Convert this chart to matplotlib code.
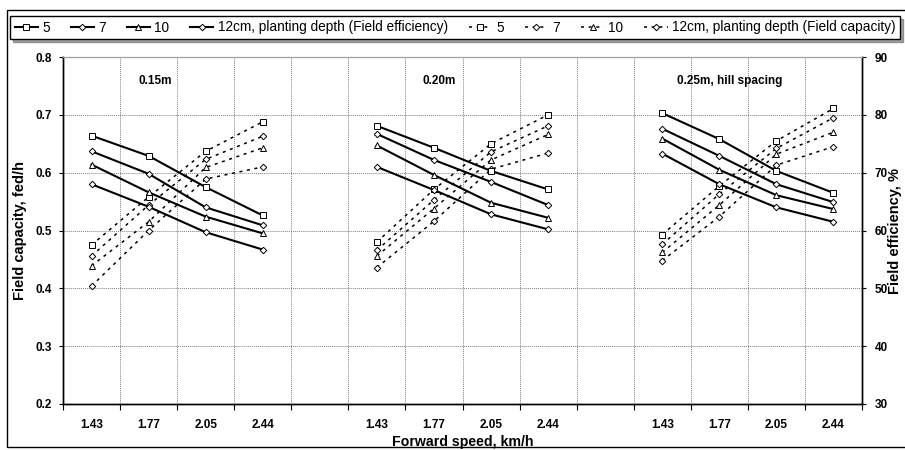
import matplotlib
matplotlib.use('Agg')
import matplotlib.pyplot as plt
from matplotlib.patches import Rectangle

plt.rcParams['font.family'] = ['Liberation Sans', 'DejaVu Sans']

speeds = ['1.43', '1.77', '2.05', '2.44']
spacings = ['0.15m', '0.20m', '0.25m, hill spacing']
depths = ['5', '7', '10', '12cm, planting depth']

# field efficiency, % (3 spacings x 4 speeds)
eff_5 = [76.4, 72.9, 67.5, 62.6, 78.1, 74.3, 70.3, 67.1, 80.3, 75.8, 70.3, 66.5]
eff_7 = [73.7, 69.8, 64.0, 60.9, 76.7, 72.2, 68.4, 64.4, 77.6, 72.9, 68.0, 64.9]
eff_10 = [71.4, 66.6, 62.4, 59.5, 74.7, 69.6, 64.8, 62.2, 75.9, 70.5, 66.1, 63.7]
eff_12 = [68.0, 64.1, 59.7, 56.7, 71.0, 67.0, 62.8, 60.2, 73.3, 68.0, 64.0, 61.5]

# field capacity, fed/h
cap_5 = [0.475, 0.558, 0.637, 0.688, 0.480, 0.571, 0.650, 0.700, 0.493, 0.577, 0.655, 0.711]
cap_7 = [0.456, 0.544, 0.623, 0.663, 0.466, 0.553, 0.636, 0.681, 0.476, 0.563, 0.642, 0.695]
cap_10 = [0.439, 0.515, 0.609, 0.643, 0.456, 0.538, 0.622, 0.666, 0.462, 0.544, 0.632, 0.670]
cap_12 = [0.404, 0.500, 0.589, 0.610, 0.436, 0.516, 0.606, 0.634, 0.448, 0.524, 0.613, 0.645]

eff_all = [eff_5, eff_7, eff_10, eff_12]
cap_all = [cap_5, cap_7, cap_10, cap_12]
markers = ['s', 'D', '^', 'D']
msizes = [4, 3.3, 4.3, 3.3]

fig = plt.figure(figsize=(9.05, 4.5), dpi=100)
ax = fig.add_axes([63/905, 46/450, 799/905, 347/450])
ax2 = ax.twinx()

solid_h = []
dash_h = []
for k in range(4):
    for g in range(3):
        xs = [g*5 + i + 0.5 for i in range(4)]
        l1, = ax2.plot(xs, eff_all[k][g*4:g*4+4], color='black', lw=1.5,
                       marker=markers[k], ms=msizes[k], mfc='white', mec='black', mew=0.7)
        l2, = ax.plot(xs, cap_all[k][g*4:g*4+4], color='black', lw=1.1, ls=(0, (2, 3)),
                      marker=markers[k], ms=msizes[k], mfc='white', mec='black', mew=0.7)
        if g == 0:
            solid_h.append(l1)
            dash_h.append(l2)

ax.set_xlim(0, 14)
ax.set_ylim(0.2, 0.8)
ax2.set_ylim(30, 90)
ax.set_yticks([0.2, 0.3, 0.4, 0.5, 0.6, 0.7, 0.8])
ax.set_yticklabels(['0.2', '0.3', '0.4', '0.5', '0.6', '0.7', '0.8'])
ax2.set_yticks([30, 40, 50, 60, 70, 80, 90])

ax.set_xticks(range(15))
ax.set_xticklabels([])
ax.set_xticks([g*5 + i + 0.5 for g in range(3) for i in range(4)], minor=True)
ax.set_xticklabels(speeds * 3, minor=True)
ax.tick_params(axis='x', which='major', direction='out', length=4, width=0.8)
ax.tick_params(axis='x', which='minor', length=0, pad=11, labelsize=8.5)
ax.tick_params(axis='y', direction='out', length=3, width=0.8, labelsize=8.5, pad=5)
ax2.tick_params(axis='y', direction='out', length=3, width=0.8, labelsize=8.5, pad=6)
for t in ax.get_xticklabels(minor=True) + ax.get_yticklabels() + ax2.get_yticklabels():
    t.set_fontweight('bold')

ax.grid(True, which='major', color='#808080', lw=0.7, ls=(0, (1, 1)))
for a in (ax, ax2):
    a.spines['top'].set_color('#a0a0a0')
    for s in ('left', 'right', 'bottom'):
        a.spines[s].set_linewidth(1)

for g in range(3):
    pos = [1.61, 6.6, 11.69][g]
    ax.text(pos, 0.758, spacings[g], ha='center', va='center', fontsize=8.5, fontweight='bold')

ax.set_ylabel('Field capacity, fed/h', fontsize=10.5, fontweight='bold')
ax.yaxis.set_label_coords(-0.045, 0.5)
ax2.set_ylabel('Field efficiency, %', fontsize=10.5, fontweight='bold')
ax2.yaxis.set_label_coords(1.032, 0.5)
ax.set_xlabel('Forward speed, km/h', fontsize=10.2, fontweight='bold')
ax.xaxis.set_label_coords(0.5, -0.088)

labels = ['5', '7', '10', '12cm, planting depth (Field efficiency)',
          '5', '7', '10', '12cm, planting depth (Field capacity)']
leg = fig.legend(solid_h + dash_h, labels, loc='center', ncol=8, mode='expand',
                 bbox_to_anchor=(10/905, 1 - 40/450, 890/905, 25/450),
                 fancybox=False, shadow=True, edgecolor='black', fontsize=9.8,
                 handlelength=1.7, handletextpad=0.3, columnspacing=0.6,
                 borderaxespad=0, borderpad=0.35)
leg.get_frame().set_linewidth(1)

fig.patches.append(Rectangle((7/905, 3/450), 1.0, 437/450, transform=fig.transFigure,
                             fill=False, edgecolor='black', lw=1))

fig.savefig('out.png', dpi=100)
